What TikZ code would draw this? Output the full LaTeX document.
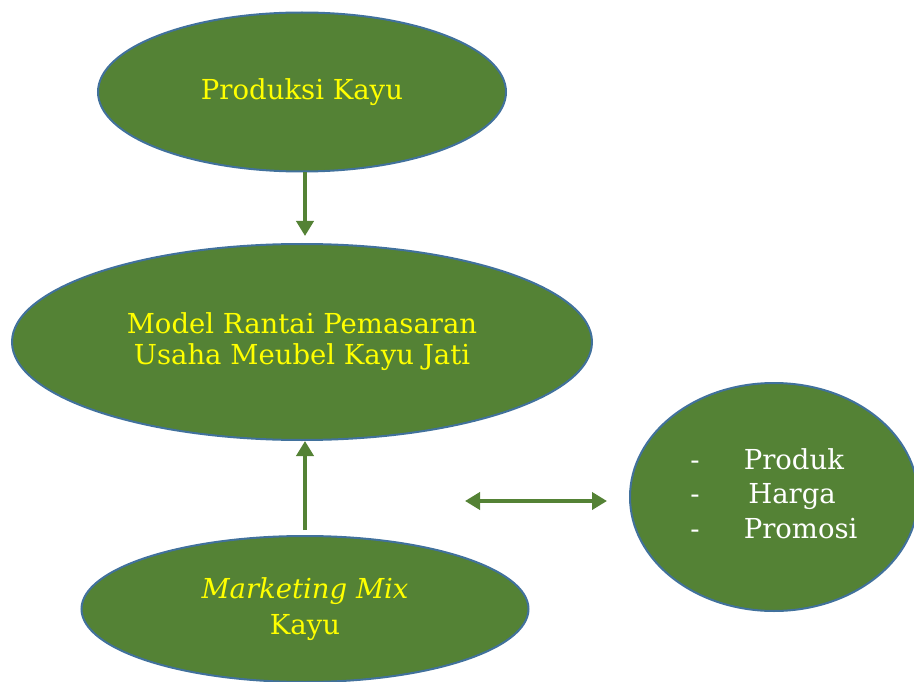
\documentclass[tikz,border=0pt]{standalone}
\usepackage{fontspec}
\setmainfont{DejaVu Serif}
\usetikzlibrary{%
  arrows.meta,%
  shapes.geometric,% ellipse
  positioning%
}
\definecolor{mixgreen}{RGB}{84,130,53}
\definecolor{rimblue}{RGB}{65,113,156}
\definecolor{labelyellow}{RGB}{255,255,0}

\begin{document}
\begin{tikzpicture}[x=1pt,y=-1pt,
    Oval/.style={ellipse, draw=rimblue, line width=2pt, fill=mixgreen,
      inner sep=0pt, text=labelyellow, font=\fontsize{27.5}{31}\selectfont,
      align=center},
    Flow/.style={draw=mixgreen, line width=3.8pt,
      -{Triangle[length=15pt,width=17pt]}},
    Both/.style={Flow, {Triangle[length=15pt,width=17pt]}-{Triangle[length=15pt,width=17pt]}}]
  \useasboundingbox (0,0) rectangle (914,682);
  % ovals
  \node [Oval, minimum width=408, minimum height=159] (prod) at (302,92)
    {Produksi Kayu};
  \node [Oval, minimum width=580, minimum height=196] (model) at (302,342)
    {Model Rantai Pemasaran\\Usaha Meubel Kayu Jati};
  \node [Oval, minimum width=447, minimum height=146,
    font=\fontsize{27.5}{36}\selectfont] (mix) at (305,609)
    {\textit{Marketing Mix}\\Kayu};
  \node [Oval, minimum width=288, minimum height=228, text=white,
    font=\fontsize{27.5}{34.5}\selectfont] (mixitems) at (774,497)
    {\raisebox{-3pt}{\begin{tabular}{@{}l@{\hspace{44pt}}l@{}}
       - & Produk\\
       - & \,Harga\\
       - & Promosi
     \end{tabular}}};
  % arrows
  \draw [Flow, shorten >=7pt] (prod.south -| mix.north) -- (model.north -| mix.north);
  \draw [Flow, shorten <=5pt] (mix.north) -- (model.south -| mix.north);
  \coordinate (left end) at (465,501);
  \coordinate (right end) at (607,501);
  \draw [Both] (left end) -- (right end);
\end{tikzpicture}
\end{document}
